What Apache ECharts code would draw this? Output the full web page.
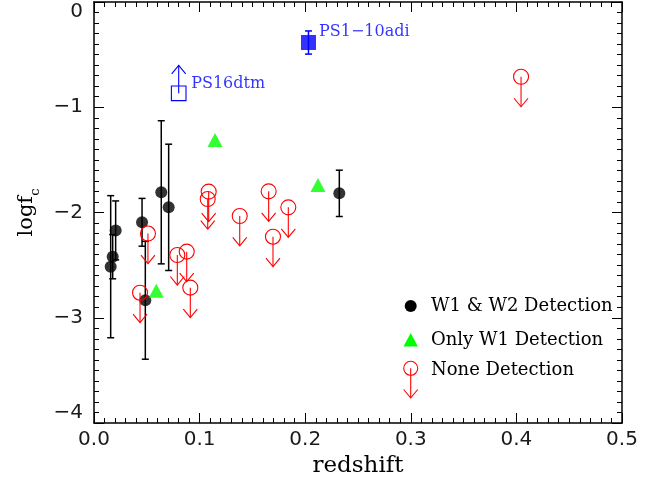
<!DOCTYPE html>
<html>
<head>
<meta charset="utf-8">
<script src="https://cdn.jsdelivr.net/npm/echarts@6/dist/echarts.min.js"></script>
<style>html,body{margin:0;padding:0;background:#fff}#c{width:661px;height:492px}</style>
</head>
<body>
<div id="c"></div>
<script>
// Axis ticks
const xTicks = [0, 0.1, 0.2, 0.3, 0.4, 0.5];
const yTicks = [-4, -3, -2, -1, 0];
// W1 & W2 detection (redshift, log fc, symmetric error)
const bothZ = [0.0158, 0.0177, 0.0205, 0.0455, 0.0486, 0.0637, 0.0707, 0.2323];
const bothF = [-2.515, -2.42, -2.17, -2.093, -2.834, -1.808, -1.951, -1.818];
const bothErr = [0.675, 0.21, 0.28, 0.227, 0.56, 0.68, 0.60, 0.22];
// Only W1 detection
const w1Z = [0.059, 0.1146, 0.2121];
const w1F = [-2.743, -1.31, -1.739];
// None detection (upper limits)
const noneZ = [0.0436, 0.0511, 0.0789, 0.0878, 0.0912, 0.1077, 0.1086, 0.138, 0.1654, 0.1695, 0.184, 0.4044];
const noneF = [-2.762, -2.20, -2.404, -2.372, -2.714, -1.872, -1.802, -2.033, -1.799, -2.23, -1.951, -0.71];
// Named objects
const ps1Z = [0.2031], ps1F = [-0.385], ps1Err = [0.11];
const ps16Z = [0.0802], ps16F = [-0.868];

const RED = '#ff0000', GREEN = '#00ff00', BLUE = '#0000ff';
const zip = (a, b, c) => a.map((v, i) => c ? [v, b[i], c[i]] : [v, b[i]]);

function errBar(color) {
  return function (params, api) {
    const x = api.value(0), y = api.value(1), e = api.value(2);
    const t = api.coord([x, y + e]), b = api.coord([x, y - e]);
    const st = { stroke: color, lineWidth: 1.5 };
    const w = 3.5;
    return { type: 'group', children: [
      { type: 'line', shape: { x1: t[0], y1: t[1], x2: b[0], y2: b[1] }, style: st },
      { type: 'line', shape: { x1: t[0] - w, y1: t[1], x2: t[0] + w, y2: t[1] }, style: st },
      { type: 'line', shape: { x1: b[0] - w, y1: b[1], x2: b[0] + w, y2: b[1] }, style: st }
    ]};
  };
}
function upperLimit(params, api) {
  const p = api.coord([api.value(0), api.value(1)]);
  const st = { stroke: RED, lineWidth: 1.1, fill: null };
  const L = 30;
  return { type: 'group', children: [
    { type: 'circle', shape: { cx: p[0], cy: p[1], r: 7.5 }, style: { stroke: RED, lineWidth: 1.1, fill: 'transparent' } },
    { type: 'line', shape: { x1: p[0], y1: p[1], x2: p[0], y2: p[1] + L }, style: st },
    { type: 'polyline', shape: { points: [[p[0] - 7, p[1] + L - 8.5], [p[0], p[1] + L], [p[0] + 7, p[1] + L - 8.5]] }, style: st }
  ]};
}
function lowerLimitSquare(params, api) {
  const p = api.coord([api.value(0), api.value(1)]);
  const st = { stroke: BLUE, lineWidth: 1.1, fill: null };
  const L = 28, h = 7.3;
  return { type: 'group', children: [
    { type: 'rect', shape: { x: p[0] - h, y: p[1] - h, width: 2 * h, height: 2 * h }, style: { stroke: BLUE, lineWidth: 1.1, fill: 'transparent' } },
    { type: 'line', shape: { x1: p[0], y1: p[1], x2: p[0], y2: p[1] - L }, style: st },
    { type: 'polyline', shape: { points: [[p[0] - 7, p[1] - L + 8.5], [p[0], p[1] - L], [p[0] + 7, p[1] - L + 8.5]] }, style: st }
  ]};
}

const tickFont = { fontFamily: 'DejaVu Sans', fontSize: 20, color: '#1a1a1a' };
const fmt = v => (v < 0 ? '\u2212' + Math.abs(v) : String(v));
const baseAxis = {
  axisLine: { show: true, onZero: false, lineStyle: { color: '#000', width: 1.5 } },
  axisTick: { show: true, inside: true, length: 10, lineStyle: { color: '#000', width: 1 } },
  minorTick: { show: true, splitNumber: 10, length: 5, lineStyle: { color: '#000', width: 1 } },
  splitLine: { show: false }
};

const chart = echarts.init(document.getElementById('c'), null, { renderer: 'canvas' });
chart.setOption({
  animation: false,
  backgroundColor: '#fff',
  grid: { left: 94, right: 39, top: 2, bottom: 69, containLabel: false, outerBoundsMode: 'none' },
  xAxis: [
    Object.assign({}, baseAxis, {
      type: 'value', min: xTicks[0], max: xTicks[xTicks.length - 1], interval: 0.1, position: 'bottom',
      axisLabel: Object.assign({ margin: 7, formatter: v => v.toFixed(1) }, tickFont),
      name: 'redshift', nameLocation: 'middle', nameGap: 31,
      nameTextStyle: { fontFamily: 'DejaVu Serif', fontSize: 23, color: '#000' }
    }),
    Object.assign({}, baseAxis, {
      type: 'value', min: xTicks[0], max: xTicks[xTicks.length - 1], interval: 0.1, position: 'top',
      axisLabel: { show: false }
    })
  ],
  yAxis: [
    Object.assign({}, baseAxis, {
      type: 'value', min: yTicks[0], max: yTicks[yTicks.length - 1], interval: 1, position: 'left',
      axisLabel: Object.assign({ margin: 11, formatter: fmt,
        verticalAlignMaxLabel: 'top', verticalAlignMinLabel: 'bottom' }, tickFont),
      name: 'logf{s|c}', nameLocation: 'middle', nameGap: 52, nameRotate: 90,
      nameTextStyle: { fontFamily: 'DejaVu Serif', fontSize: 21, color: '#000',
        rich: { s: { fontFamily: 'DejaVu Serif', fontSize: 13, color: '#000', verticalAlign: 'bottom', padding: [0, 0, -6, 0] } } }
    }),
    Object.assign({}, baseAxis, {
      type: 'value', min: yTicks[0], max: yTicks[yTicks.length - 1], interval: 1, position: 'right',
      axisLabel: { show: false }
    })
  ],
  series: [
    { type: 'custom', name: 'errBoth', renderItem: errBar('#000'), data: zip(bothZ, bothF, bothErr), z: 2 },
    { type: 'scatter', name: 'W1 & W2 Detection', data: zip(bothZ, bothF), symbol: 'circle', symbolSize: 12,
      itemStyle: { color: '#000' }, z: 3 },
    { type: 'custom', name: 'None Detection', renderItem: upperLimit, data: zip(noneZ, noneF), z: 4 },
    { type: 'scatter', name: 'Only W1 Detection', data: zip(w1Z, w1F), symbol: 'triangle', symbolSize: [15, 14],
      itemStyle: { color: GREEN }, z: 5 },
    { type: 'custom', name: 'errPS1', renderItem: errBar(BLUE), data: zip(ps1Z, ps1F, ps1Err), z: 5 },
    { type: 'scatter', name: 'PS1-10adi', data: zip(ps1Z, ps1F), symbol: 'rect', symbolSize: 15,
      itemStyle: { color: BLUE }, z: 6,
      label: { show: true, position: 'right', distance: 3, offset: [0, -11], formatter: 'PS1\u221210adi',
        fontFamily: 'DejaVu Serif', fontSize: 16, color: BLUE } },
    { type: 'custom', name: 'PS16dtm', renderItem: lowerLimitSquare, data: zip(ps16Z, ps16F), z: 6 },
    { type: 'scatter', name: 'PS16dtmLabel', data: zip(ps16Z, ps16F), symbol: 'rect', symbolSize: 15,
      itemStyle: { color: 'transparent' }, z: 6,
      label: { show: true, position: 'right', distance: 5, offset: [0, -10], formatter: 'PS16dtm',
        fontFamily: 'DejaVu Serif', fontSize: 16, color: BLUE } }
  ],
  graphic: [
    { type: 'circle', shape: { cx: 410.7, cy: 306, r: 6 }, style: { fill: '#000' } },
    { type: 'text', x: 431, y: 306, style: { text: 'W1 & W2 Detection', fontFamily: 'DejaVu Serif', fontSize: 18, fill: '#000', verticalAlign: 'middle' } },
    { type: 'polygon', shape: { points: [[410.7, 333], [403.5, 346.5], [417.9, 346.5]] }, style: { fill: GREEN } },
    { type: 'text', x: 431, y: 340, style: { text: 'Only W1 Detection', fontFamily: 'DejaVu Serif', fontSize: 18, fill: '#000', verticalAlign: 'middle' } },
    { type: 'circle', shape: { cx: 410.7, cy: 368.3, r: 7 }, style: { stroke: RED, fill: 'transparent', lineWidth: 1.1 } },
    { type: 'line', shape: { x1: 410.7, y1: 368.3, x2: 410.7, y2: 398 }, style: { stroke: RED, lineWidth: 1.1 } },
    { type: 'polyline', shape: { points: [[403.7, 389.5], [410.7, 398], [417.7, 389.5]] }, style: { stroke: RED, lineWidth: 1.1, fill: null } },
    { type: 'text', x: 431, y: 370.7, style: { text: 'None Detection', fontFamily: 'DejaVu Serif', fontSize: 18, fill: '#000', verticalAlign: 'middle' } }
  ]
});
</script>
</body>
</html>
